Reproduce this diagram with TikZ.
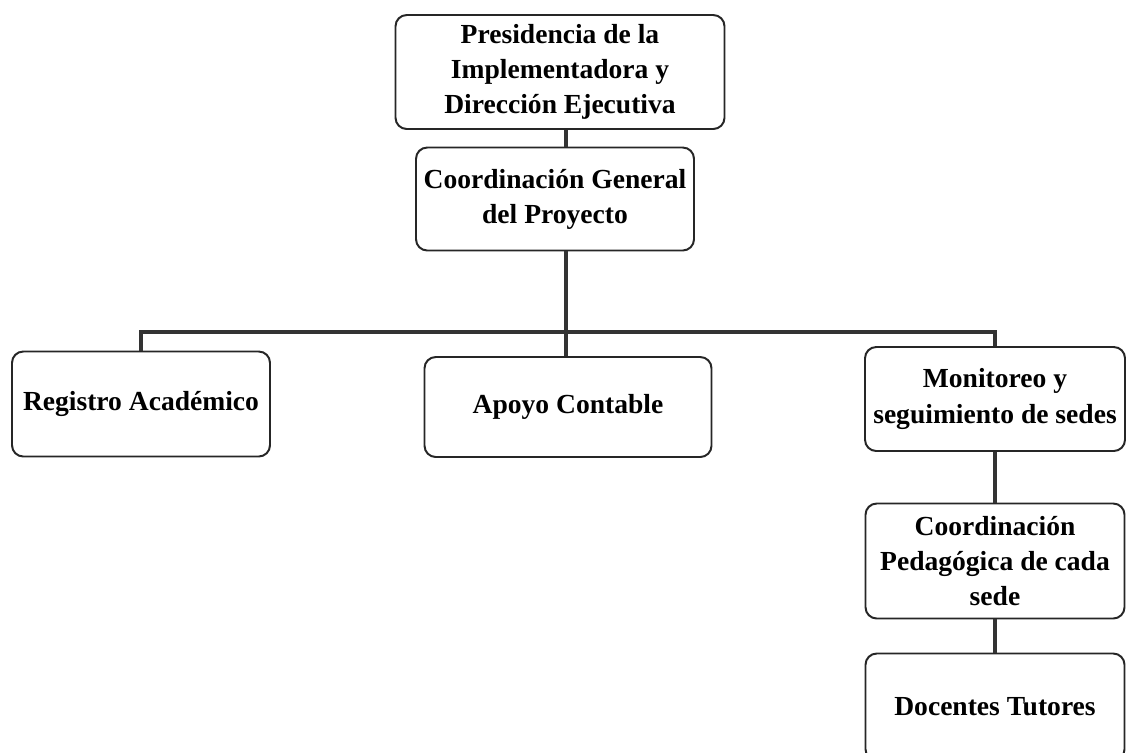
\documentclass[tikz,border=0pt]{standalone}
\usepackage{fontspec}
\setmainfont{Liberation Serif}
\newcommand{\px}{0.025cm}

\begin{document}
\begin{tikzpicture}[x=\px, y=-\px,
    box/.style={draw=black!85, line width=1.4pt, rounded corners=8pt, fill=white, align=center, inner sep=2pt,
                font=\bfseries\fontsize{19.6}{25}\selectfont},
    link/.style={draw=black!80, line width=2.6pt}]
    \useasboundingbox (0,0) rectangle (1127,752);

    % Direction
    \node[box, minimum width=329*\px, minimum height=114*\px] (pres) at (560,72) {Presidencia de la\\Implementadora y\\Dirección Ejecutiva};
    \node[box, minimum width=278*\px, minimum height=103*\px] (coord) at (555,199) {Coordinación General\\del Proyecto};

    % Second level
    \node[box, minimum width=258*\px, minimum height=105*\px] (reg) at (141,404) {Registro Académico};
    \node[box, minimum width=287*\px, minimum height=100*\px] (apoyo) at (568,407) {Apoyo Contable};
    \node[box, minimum width=260*\px, minimum height=104*\px] (moni) at (995,399) {Monitoreo y\\seguimiento de sedes};

    % Sedes
    \node[box, minimum width=259*\px, minimum height=115*\px] (ped) at (995,561) {Coordinación\\Pedagógica de cada\\sede};
    \node[box, minimum width=259*\px, minimum height=107*\px] (doc) at (995,707) {Docentes Tutores};

    \coordinate (bus) at (566,332);

    \draw[link] (pres.south -| bus) -- (coord.north -| bus);
    \draw[link] (coord.south -| bus) -- (apoyo.north -| bus);
    \draw[link] (reg.north) |- (bus) -| (moni.north);
    \draw[link] (moni) -- (ped);
    \draw[link] (ped) -- (doc);
\end{tikzpicture}
\end{document}
